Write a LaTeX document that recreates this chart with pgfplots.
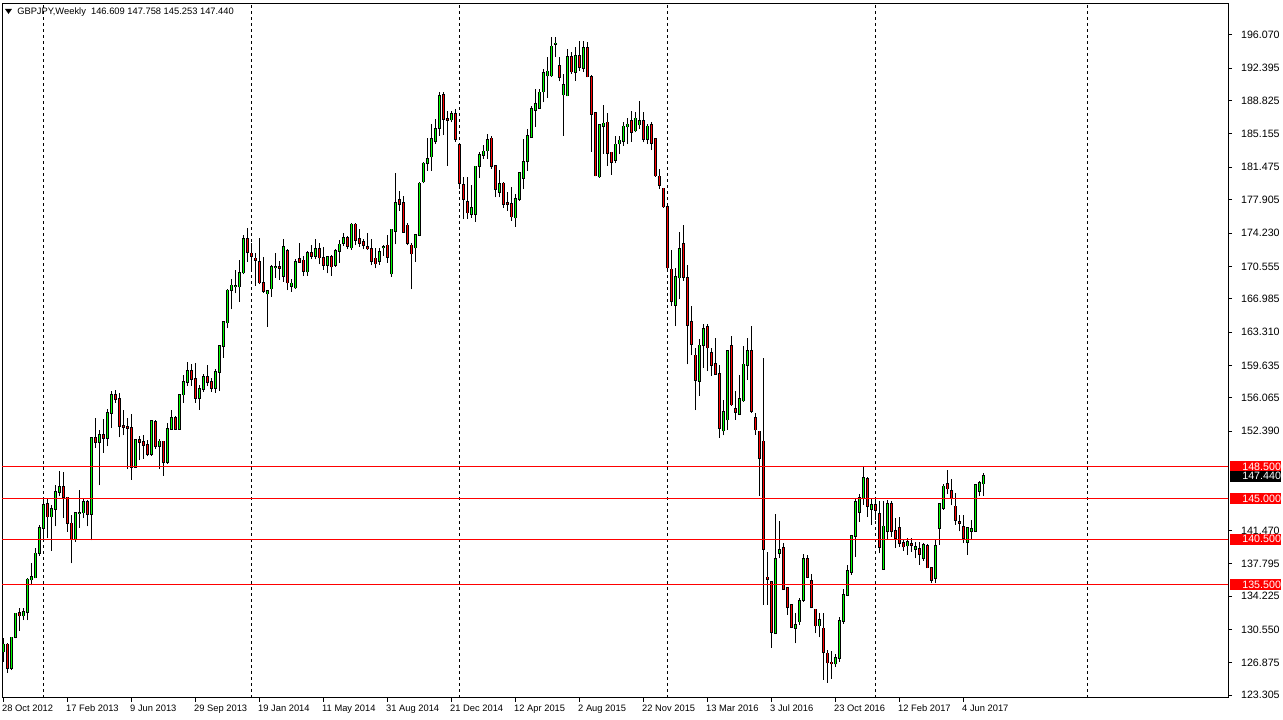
\documentclass[border=0pt]{standalone}
\usepackage{fontspec}
\setmainfont{Liberation Sans}
\usepackage{pgfplots}
\usepackage{pgfplotstable}
\pgfplotsset{compat=1.18}
\definecolor{bull}{RGB}{0,255,0}
\definecolor{bear}{RGB}{255,0,0}

% bullish weekly candles: index O H L C
\pgfplotstableread{
i O H L C
0 128.10 129.57 127.00 128.91
2 126.26 129.75 126.07 129.68
3 129.68 132.40 129.57 132.33
5 132.07 132.88 131.59 132.48
6 132.44 136.27 131.59 136.08
7 136.05 137.85 135.42 136.34
8 136.27 139.50 136.19 138.95
9 138.95 142.08 138.66 141.71
10 141.71 144.84 140.50 144.29
12 143.00 144.29 139.25 143.81
13 143.81 146.50 141.90 145.69
14 145.65 147.97 145.21 146.24
18 140.57 143.45 140.24 143.37
19 143.37 145.94 141.71 143.44
20 143.44 144.91 142.82 144.58
22 143.30 151.75 140.36 151.66
24 151.18 152.50 146.43 152.02
26 151.66 154.86 150.74 154.42
27 154.42 156.88 152.76 156.44
33 148.45 151.55 148.34 151.47
37 149.89 153.68 149.71 153.50
39 150.74 151.58 148.23 151.29
41 148.97 153.31 148.82 152.65
42 152.65 154.78 152.57 153.86
44 152.65 156.50 152.57 156.44
45 156.44 158.64 155.52 157.83
46 157.83 160.04 157.36 159.01
49 156.07 157.47 154.78 157.06
50 157.06 158.75 156.73 158.39
53 157.17 159.20 156.62 158.90
54 158.90 161.85 156.80 161.77
55 161.77 164.53 160.48 164.46
56 164.35 168.03 163.72 167.92
57 167.92 169.21 165.82 168.47
58 168.33 170.13 167.59 168.40
59 168.33 171.23 166.67 169.87
60 169.87 173.99 169.68 173.62
66 167.55 167.90 163.91 167.84
67 168.10 170.68 167.22 170.53
68 170.42 172.00 169.32 170.47
70 169.50 173.62 168.84 172.74
72 168.40 169.13 167.77 168.69
73 168.21 171.34 168.10 171.08
76 169.98 172.26 169.50 172.08
78 171.71 173.55 171.34 172.52
81 170.71 171.71 169.79 171.63
83 170.71 172.52 170.49 172.26
84 172.26 173.44 170.97 172.99
85 173.11 174.21 172.81 173.73
87 172.63 175.39 172.37 175.20
94 171.16 172.63 170.71 172.19
95 172.63 172.88 171.71 172.74
97 169.76 174.70 169.39 174.65
98 174.46 180.80 172.99 177.59
103 172.63 174.17 171.05 174.03
104 174.03 179.80 173.90 179.69
105 179.88 182.01 179.69 181.90
106 181.90 184.66 181.09 182.38
107 182.64 186.24 181.09 184.59
108 184.33 186.79 184.03 185.69
109 185.76 189.74 184.95 189.37
112 186.72 187.71 186.43 187.34
117 176.31 179.51 175.94 177.04
118 176.31 181.65 175.46 181.57
119 181.57 183.19 180.24 182.86
120 182.81 183.96 182.38 183.22
121 183.30 185.14 182.38 184.51
124 178.77 181.17 178.15 179.62
128 175.94 178.52 174.95 177.96
129 177.96 180.98 177.78 180.83
130 180.28 184.58 179.07 182.08
131 182.12 185.69 181.09 184.95
132 184.77 188.26 184.69 187.90
133 187.79 190.10 185.95 188.45
134 187.97 190.10 187.90 189.74
135 189.81 192.31 188.63 191.84
136 191.58 193.60 189.11 192.05
137 191.58 195.88 191.47 194.81
138 195.07 195.88 193.60 195.14
140 189.48 191.76 184.95 190.54
141 189.37 194.52 189.30 193.60
143 191.94 194.70 191.02 193.71
145 192.39 195.44 191.95 194.63
149 180.43 186.20 180.32 186.13
150 185.98 188.34 182.93 186.32
153 182.27 184.88 181.90 184.00
154 184.07 184.88 182.93 184.44
155 184.33 186.43 183.85 185.98
156 185.95 186.87 184.03 186.21
158 185.51 187.53 185.32 186.87
159 186.17 188.82 185.69 186.57
161 184.59 186.24 184.03 185.98
168 166.30 170.42 163.98 169.43
169 169.32 174.29 166.93 172.52
174 157.91 162.51 156.26 161.85
175 161.85 164.17 159.38 163.69
180 152.46 155.81 151.95 154.49
181 153.68 161.30 152.57 161.22
184 154.30 158.54 154.19 155.96
185 155.78 161.78 155.63 159.75
186 159.68 162.62 158.02 161.22
193 130.13 143.30 130.05 138.30
194 138.96 142.46 138.41 139.33
198 130.68 132.34 129.02 131.05
199 131.42 133.99 131.05 133.70
200 133.81 138.89 133.62 138.30
204 130.97 132.41 129.69 131.60
208 126.80 127.80 126.40 127.40
209 127.40 131.90 127.00 131.50
210 131.50 135.00 131.20 134.35
211 134.35 137.67 134.20 137.00
212 136.86 140.95 136.56 140.87
213 140.87 145.03 138.59 144.58
214 143.48 145.47 142.45 145.03
215 145.03 148.45 144.29 147.23
217 143.81 145.03 142.08 144.29
220 137.19 144.66 137.11 141.90
221 141.35 144.84 140.43 144.36
226 139.80 140.61 138.77 140.17
228 139.40 140.24 138.40 139.69
230 138.40 140.06 138.11 139.88
233 136.19 140.43 135.64 139.76
234 141.71 144.45 139.88 144.36
235 143.92 146.57 143.74 146.31
241 140.17 141.80 138.77 141.71
242 141.42 142.63 140.43 141.64
243 141.42 146.57 141.35 146.50
244 145.76 146.94 145.21 146.68
245 146.609 147.758 145.253 147.440
}\up

% bearish weekly candles: index O H L C
\pgfplotstableread{
i O H L C
1 128.91 129.02 125.78 126.26
4 132.40 132.88 130.41 132.07
11 144.36 144.90 140.60 143.00
15 146.24 147.86 142.82 145.10
16 145.10 145.20 141.34 142.26
17 142.26 143.18 137.85 140.57
21 144.58 144.84 141.90 143.26
23 151.66 153.86 150.55 151.18
25 152.02 153.75 150.00 151.66
28 156.44 156.92 155.52 155.96
29 155.96 156.62 151.73 152.94
30 153.02 154.71 151.95 152.83
31 152.91 153.86 148.23 152.72
32 152.76 154.34 147.06 148.45
34 151.47 151.84 149.19 151.18
35 151.25 152.02 149.34 150.85
36 150.88 151.47 149.63 149.89
38 153.42 153.68 150.48 150.74
40 151.29 151.36 147.50 148.97
43 153.86 154.04 152.57 152.65
47 159.01 159.82 157.36 158.17
48 158.17 159.93 155.52 156.07
51 158.39 159.67 157.36 157.83
52 157.83 158.28 156.73 157.17
61 173.62 174.84 171.05 172.15
62 172.00 173.18 170.24 171.71
63 171.45 172.08 168.40 171.27
64 171.08 173.73 168.58 168.76
65 168.76 171.60 167.66 167.84
69 170.53 171.16 169.06 170.38
71 172.26 172.52 167.95 168.76
74 171.41 173.18 170.97 171.05
75 171.23 171.71 169.50 170.05
77 172.08 172.88 171.34 171.71
79 172.52 173.11 170.79 171.52
80 171.52 172.74 170.16 170.71
82 171.63 171.78 169.50 170.53
86 173.73 173.91 172.44 172.81
88 175.20 175.39 172.88 173.47
89 173.62 174.65 172.70 173.11
90 173.25 173.55 172.44 172.92
91 172.74 174.28 172.37 172.52
92 172.52 173.55 170.68 171.16
93 171.45 172.63 170.34 170.86
96 172.88 173.99 170.97 171.60
99 177.85 178.81 176.68 177.41
100 177.52 178.33 174.28 174.36
101 175.09 175.39 172.88 173.11
102 172.88 173.11 168.03 171.96
110 189.44 189.74 185.03 186.79
111 186.79 187.71 181.64 186.68
113 187.34 187.90 184.29 184.59
114 183.92 184.00 179.07 179.73
115 179.54 180.35 175.75 177.96
116 177.70 180.35 175.83 176.49
122 184.66 184.95 181.27 181.64
123 181.64 181.71 178.15 179.07
125 179.69 179.80 177.04 177.41
126 177.52 178.70 176.68 177.45
127 177.41 179.33 175.57 176.05
139 192.61 193.60 190.95 191.39
142 193.60 194.15 191.76 192.02
144 193.71 195.44 192.13 192.50
146 194.63 195.26 191.39 191.47
147 191.40 191.60 183.19 187.35
148 187.46 187.60 180.46 180.54
151 186.43 187.46 181.64 183.04
152 183.11 183.20 180.65 182.01
157 186.61 187.71 184.29 185.32
160 186.57 187.53 184.22 184.59
162 186.13 186.50 183.37 184.14
163 184.59 184.65 180.45 180.54
164 180.46 181.27 179.07 179.51
165 179.14 179.20 177.04 177.15
166 177.15 177.20 170.24 170.42
167 170.24 172.34 166.19 166.74
170 173.00 175.10 168.95 169.39
171 169.32 170.68 159.75 164.09
172 164.46 166.19 160.78 161.96
173 160.74 161.59 154.71 158.02
176 163.87 164.17 159.02 161.59
177 161.04 161.59 158.46 159.68
178 159.82 162.62 158.60 158.72
179 158.72 159.64 151.65 152.76
182 161.78 162.88 155.22 155.33
183 154.85 156.81 153.68 154.52
187 161.22 163.98 154.41 154.60
188 153.90 154.40 152.02 152.58
189 152.39 152.45 145.29 149.45
190 151.29 160.50 133.26 139.40
191 136.31 139.14 133.26 136.09
192 135.83 135.90 128.55 130.24
195 139.51 140.06 134.91 134.98
196 135.10 135.15 132.15 133.00
197 133.26 133.30 130.68 130.79
201 138.30 138.78 136.20 136.31
202 135.94 136.68 132.89 133.00
203 132.78 132.85 130.13 130.97
205 130.68 132.41 125.00 128.03
206 127.92 128.29 124.70 126.89
207 126.93 128.21 125.10 126.78
216 147.16 147.31 143.00 144.11
218 144.29 145.03 142.63 143.74
219 143.26 144.66 138.95 139.62
222 144.36 144.66 140.79 141.42
223 141.42 142.82 139.51 140.61
224 141.71 143.00 139.69 140.06
225 140.06 140.50 139.21 139.69
227 139.95 140.61 139.14 139.88
229 139.40 140.24 137.66 138.84
231 139.80 139.95 137.30 137.37
232 137.37 137.48 135.64 136.01
236 146.57 148.15 145.47 146.06
237 145.84 147.16 144.22 145.03
238 144.11 145.58 142.08 142.60
239 142.45 143.19 141.35 142.27
240 141.82 143.19 140.06 140.61
}\down

\begin{document}
\begin{tikzpicture}[x=1pt,y=1pt]
\useasboundingbox (-1.5,-16.8) rectangle (960.75,523.2);
\fill[white] (-1.5,-16.8) rectangle (960.75,523.2);
\begin{axis}[
  at={(0,0)}, anchor=south west,
  scale only axis, width=919.5pt, height=520.5pt,
  xmin=-0.325, xmax=306.175, ymin=123.05, ymax=199.51,
  axis line style={black, line width=0.75pt},
  xtick={0,16,...,240},
  xticklabels={28 Oct 2012,17 Feb 2013,9 Jun 2013,29 Sep 2013,19 Jan 2014,11 May 2014,31 Aug 2014,21 Dec 2014,12 Apr 2015,2 Aug 2015,22 Nov 2015,13 Mar 2016,3 Jul 2016,23 Oct 2016,12 Feb 2017,4 Jun 2017},
  xticklabel style={anchor=north west, inner sep=0pt, xshift=-1pt, yshift=-1.8pt,
    text height=5.3pt, text depth=1.2pt, font=\fontsize{7}{8.4}\selectfont},
  ytick={123.305,126.875,130.55,134.225,137.795,141.47,152.39,156.065,159.635,163.31,166.985,170.555,174.23,177.905,181.475,185.155,188.825,192.395,196.07},
  yticklabel pos=right, ytick pos=right, xtick pos=bottom,
  tick align=outside, major tick length=3pt,
  tick style={black, line width=0.75pt},
  yticklabel style={anchor=west, inner sep=0pt, xshift=6.6pt, font=\fontsize{8}{9.6}\selectfont,
    /pgf/number format/fixed, /pgf/number format/fixed zerofill,
    /pgf/number format/precision=3, /pgf/number format/assume math mode=true},
  extra y ticks={148.5,145,140.5,135.5},
  extra y tick labels={148.500,145.000,140.500,135.500},
  extra y tick style={major tick length=0pt, yticklabel style={fill=bear, text=white,
    inner ysep=1.4pt, inner xsep=0pt, xshift=-5.1pt, text width=38pt, align=right}},
  extra x ticks={10,62,114,166,218,271},
  extra x tick labels={},
  extra x tick style={grid=major, major tick length=0pt,
    major grid style={black, line width=0.75pt, dash pattern=on 2.25pt off 2.25pt}},
  clip=true,
]
% wicks
\addplot[draw=none, mark=none, forget plot, error bars/.cd, y dir=plus, y explicit, error mark=none,
  error bar style={draw=black, solid, line width=0.75pt}]
  table[x=i, y=L, y error expr=\thisrow{H}-\thisrow{L}] {\up};
\addplot[draw=none, mark=none, forget plot, error bars/.cd, y dir=plus, y explicit, error mark=none,
  error bar style={draw=black, solid, line width=0.75pt}]
  table[x=i, y=L, y error expr=\thisrow{H}-\thisrow{L}] {\down};
% body outlines
\addplot[draw=none, mark=none, forget plot, error bars/.cd, y dir=plus, y explicit, error mark=none,
  error bar style={draw=black, solid, line width=2.4pt, line cap=butt}]
  table[x=i, y expr=\thisrow{O}-0.08, y error expr=\thisrow{C}-\thisrow{O}+0.16] {\up};
\addplot[draw=none, mark=none, forget plot, error bars/.cd, y dir=plus, y explicit, error mark=none,
  error bar style={draw=black, solid, line width=2.4pt, line cap=butt}]
  table[x=i, y expr=\thisrow{C}-0.08, y error expr=\thisrow{O}-\thisrow{C}+0.16] {\down};
% body fills
\addplot[draw=none, mark=none, forget plot, error bars/.cd, y dir=plus, y explicit, error mark=none,
  error bar style={draw=bull, solid, line width=1.2pt, line cap=butt}]
  table[x=i, y=O, y error expr=\thisrow{C}-\thisrow{O}] {\up};
\addplot[draw=none, mark=none, forget plot, error bars/.cd, y dir=plus, y explicit, error mark=none,
  error bar style={draw=bear, solid, line width=1.2pt, line cap=butt}]
  table[x=i, y=C, y error expr=\thisrow{O}-\thisrow{C}] {\down};
% horizontal levels
\addplot[bear, line width=0.8pt, forget plot] coordinates {(-1,148.5) (310,148.5)};
\addplot[bear, line width=0.8pt, forget plot] coordinates {(-1,145) (310,145)};
\addplot[bear, line width=0.8pt, forget plot] coordinates {(-1,140.5) (310,140.5)};
\addplot[bear, line width=0.8pt, forget plot] coordinates {(-1,135.5) (310,135.5)};
\coordinate (last) at (axis cs:306.175,147.44);
\end{axis}
\node[fill=black, text=white, anchor=west, inner ysep=1.4pt, inner xsep=0pt, text width=38pt, align=right,
  font=\fontsize{8}{9.6}\selectfont] at ([xshift=1.5pt]last) {147.440};
\fill[black] (2.25,516.5) -- (7.5,516.5) -- (4.875,512.75) -- cycle;
\node[anchor=west, inner sep=0pt, font=\fontsize{7}{8.4}\selectfont] at (11.25,514.2)
  {GBPJPY,Weekly\ \ 146.609 147.758 145.253 147.440};
\end{tikzpicture}
\end{document}
